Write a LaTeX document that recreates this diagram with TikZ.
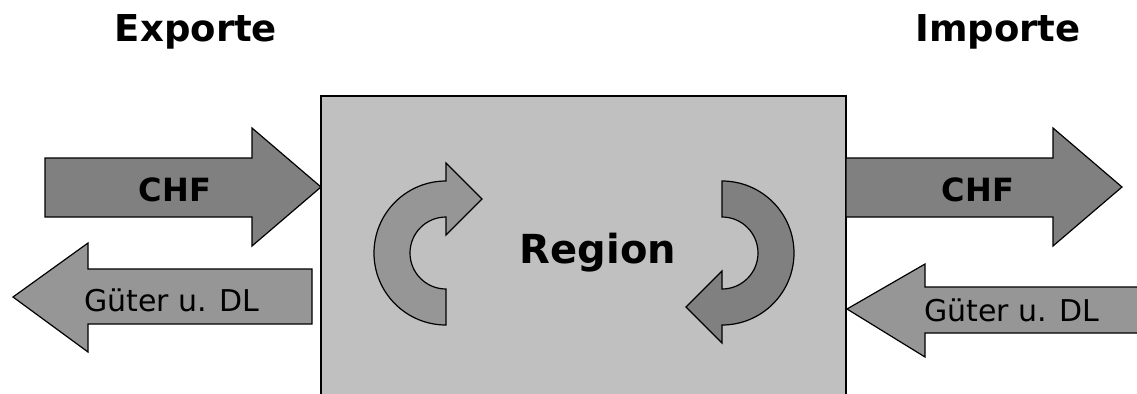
\documentclass[tikz,border=0pt]{standalone}
\usepackage{fontspec}
\setmainfont{DejaVu Sans}
\usepackage{tikz}

\definecolor{boxgray}{RGB}{192,192,192}
\definecolor{darkgray}{RGB}{128,128,128}
\definecolor{midgray}{RGB}{150,150,150}

\tikzset{
	blk/.style={draw=black,line width=.6pt,line join=miter},
	title/.style={anchor=base,inner sep=0pt,font=\fontsize{18.5}{22}\selectfont\bfseries},
	money/.style={anchor=base,inner sep=0pt,font=\fontsize{16}{19}\selectfont\bfseries},
	goods/.style={anchor=base,inner sep=0pt,font=\fontsize{15}{18}\selectfont}
}

\begin{document}
\begin{tikzpicture}
	[x=.5pt,y=-.5pt]
	\useasboundingbox (0,0) rectangle (1137,393);
	
	\fill[white] (0,0) rectangle (1137,393);
	\node[title] (ex) at (196,41) {Exporte};
	\node[title] (im) at (998,41) {Importe};
	
	% the region
	\draw[blk,fill=boxgray] (321,96) rectangle (846,400);
	\node[anchor=base,inner sep=0pt,font=\fontsize{20}{24}\selectfont\bfseries] (reg) at (598,263) {Region};
	
	% CHF arrows
	\foreach \dx in {0,801}
	\draw[blk,fill=darkgray,xshift=\dx*.5pt] (45,158) -- (252,158) -- (252,128) -- (321,187)
		-- (252,246) -- (252,217) -- (45,217) -- cycle;
	\node[money] (chf1) at (175,201.7) {CHF};
	\node[money] (chf2) at (978,201.7) {CHF};
	
	% goods arrows
	\draw[blk,fill=midgray] (312,269) -- (88,269) -- (88,243) -- (13,297)
		-- (88,352) -- (88,324) -- (312,324) -- cycle;
	\draw[blk,fill=midgray] (1145,287) -- (925,287) -- (925,264) -- (847,309)
		-- (925,357) -- (925,333) -- (1145,333) -- cycle;
	\node[goods] (gut1) at (172,311) {Güter u. DL};
	\node[goods] (gut2) at (1012,321) {Güter u. DL};
	
	% circular arrows
	\draw[blk,fill=midgray] (446,181) arc (-90:-270:72) -- (446,289) arc (90:270:36)
		-- (446,235) -- (482,199) -- (446,163) -- cycle;
	\draw[blk,fill=darkgray] (722,181) arc (-90:90:72) -- (722,343) -- (686,307)
		-- (722,271) -- (722,289) arc (90:-90:36) -- cycle;
\end{tikzpicture}
\end{document}
